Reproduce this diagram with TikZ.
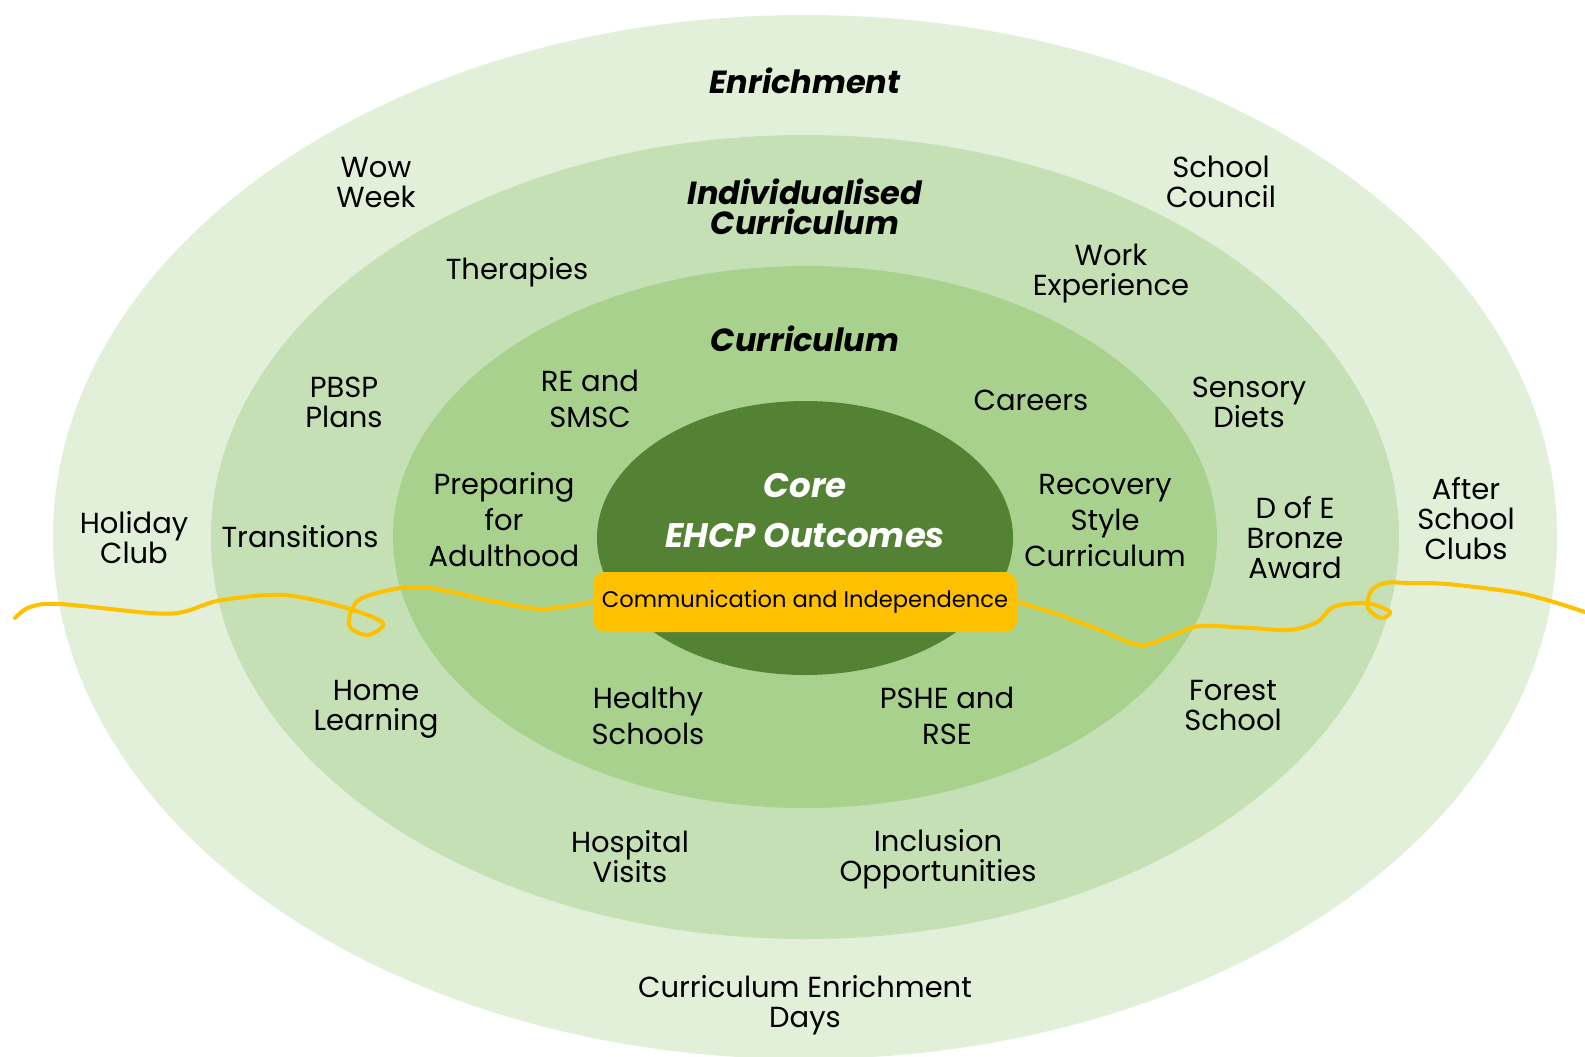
\documentclass[tikz,border=0pt]{standalone}
\usepackage{fontspec}
\setmainfont{Poppins}
\definecolor{ringOuter}{HTML}{E2EFD9}
\definecolor{ringMid}{HTML}{C5E0B4}
\definecolor{ringInner}{HTML}{A9D18E}
\definecolor{ringCore}{HTML}{548235}
\definecolor{thread}{HTML}{FFC000}
\tikzset{
  item/.style={align=center, inner sep=0pt, font=\fontsize{14.5}{15}\selectfont},
  wideitem/.style={item, font=\fontsize{14.5}{18}\selectfont},
  heading/.style={align=center, inner sep=0pt, font=\fontsize{16}{15}\selectfont\bfseries\itshape},
  corehead/.style={heading, text=white, font=\fontsize{17}{25}\selectfont\bfseries\itshape},
  band/.style={fill=thread, rounded corners=6pt, minimum width=212pt, minimum height=30pt, inner sep=0pt, font=\fontsize{11.3}{13}\selectfont},
  wave/.style={draw=thread, line width=2pt, line cap=round}
}
\begin{document}
\begin{tikzpicture}[x=0.5pt, y=-0.5pt]
\useasboundingbox (0,0) rectangle (1585,1056);
\clip (0,0) rectangle (1585,1056);
\fill[ringOuter] (805,537) ellipse [x radius=752, y radius=522];
\fill[ringMid] (805,537) ellipse [x radius=594, y radius=402];
\fill[ringInner] (805,537) ellipse [x radius=412, y radius=271];
\fill[ringCore] (805,538) ellipse [x radius=208, y radius=137];

\node[band] (comm) at (805,602) {Communication and Independence};
\coordinate (wl) at (15,618);
\coordinate (wr) at (1585,612);
\draw[wave] plot[smooth, tension=0.55] coordinates {(wl) (30,607) (60,604) (150,613) (183,612) (217,601) (267,595) (300,597) (350,609) (383,623) (368,635) (350,627) (352,609) (367,596) (420,587) (497,602) (543,609) (comm.west)};
\draw[wave] plot[smooth, tension=0.55] coordinates {(comm.east) (1060,615) (1100,630) (1140,645) (1173,635) (1200,626) (1250,628) (1290,630) (1317,622) (1333,607) (1357,603) (1372,604) (1390,612) (1381,618) (1368,608) (1371,591) (1385,583) (1410,583) (1447,584) (1513,592) (1547,600) (wr)};

\node[heading] (enrich) at (805,81) {Enrichment};
\node[heading] (indiv) at (805,207) {Individualised\\Curriculum};
\node[heading] (curr) at (805,339) {Curriculum};
\node[corehead] (core) at (805,511) {Core\\EHCP Outcomes};

\node[item] (wow) at (376,183) {Wow\\Week};
\node[item] (council) at (1221,182) {School\\Council};
\node[item] (therapies) at (517,272) {Therapies};
\node[item] (work) at (1111,274) {Work\\Experience};
\node[item] (pbsp) at (344,402) {PBSP\\Plans};
\node[wideitem] (re) at (590,399) {RE and\\SMSC};
\node[item] (careers) at (1031,400) {Careers};
\node[item] (sensory) at (1249,402) {Sensory\\Diets};
\node[item] (holiday) at (134,538) {Holiday\\Club};
\node[item] (transitions) at (300,537) {Transitions};
\node[wideitem] (adult) at (504,520) {Preparing\\for\\Adulthood};
\node[wideitem] (recovery) at (1105,521) {Recovery\\Style\\Curriculum};
\node[item] (dofe) at (1295,538) {D of E\\Bronze\\Award};
\node[item] (after) at (1466,519) {After\\School\\Clubs};
\node[item] (home) at (376,709) {Home\\Learning};
\node[wideitem] (healthy) at (648,716) {Healthy\\Schools};
\node[wideitem] (pshe) at (947,716) {PSHE and\\RSE};
\node[item] (forest) at (1233,706) {Forest\\School};
\node[item] (hospital) at (630,857) {Hospital\\Visits};
\node[item] (inclusion) at (938,859) {Inclusion\\Opportunities};
\node[item] (days) at (805,1005) {Curriculum Enrichment\\Days};
\end{tikzpicture}
\end{document}
